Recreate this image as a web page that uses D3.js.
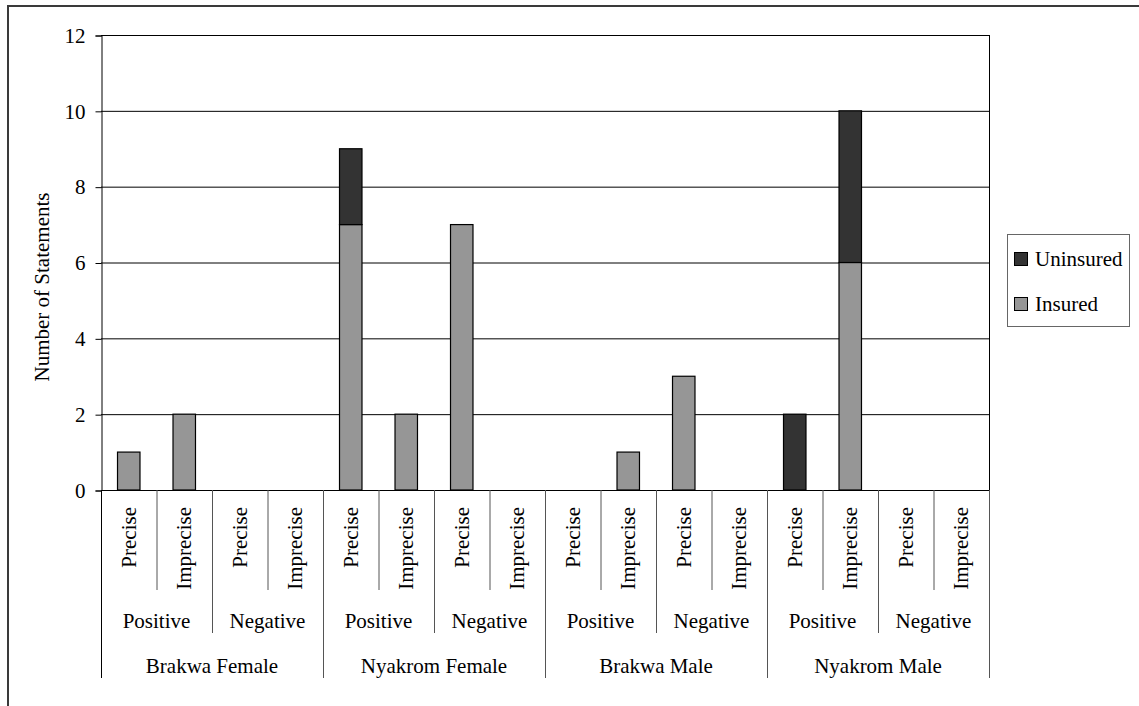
<!DOCTYPE html>
<html>
<head>
<meta charset="utf-8">
<script src="https://cdn.jsdelivr.net/npm/d3@7"></script>
<style>
  body { margin: 0; background: #fff; }
</style>
</head>
<body>
<script>
const w = 1139,
  h = 706;
const serif = 'Liberation Serif, Times New Roman, serif';

// data
const groups = ['Brakwa Female', 'Nyakrom Female', 'Brakwa Male', 'Nyakrom Male'];
const polarities = ['Positive', 'Negative'];
const precisions = ['Precise', 'Imprecise'];
const insured = [1, 2, 0, 0, 7, 2, 7, 0, 0, 1, 3, 0, 0, 6, 0, 0];
const uninsured = [0, 0, 0, 0, 2, 0, 0, 0, 0, 0, 0, 0, 2, 4, 0, 0];
const seriesNames = ['Insured', 'Uninsured'];
const seriesColors = ['#969696', '#333333'];
const yTicks = [0, 2, 4, 6, 8, 10, 12];

const margin = { left: 101, right: 989, top: 35, bottom: 490 };

// one row per bottom-level category
const rows = [];
groups.forEach((g, gi) => {
  polarities.forEach((p, pi) => {
    precisions.forEach((q, qi) => {
      const i = gi * 4 + pi * 2 + qi;
      rows.push({ i, group: g, polarity: p, precision: q, Insured: insured[i], Uninsured: uninsured[i] });
    });
  });
});

const xScale = d3.scaleBand()
  .domain(rows.map(d => d.i))
  .range([margin.left, margin.right]);

const yScale = d3.scaleLinear()
  .domain([0, 12])
  .range([margin.bottom, margin.top]);

const color = d3.scaleOrdinal().domain(seriesNames).range(seriesColors);

const svg = d3.select('body')
  .append('svg')
  .attr('width', w)
  .attr('height', h)
  .attr('font-family', serif)
  .attr('font-size', 21);

// outer chart frame
svg.append('rect')
  .attr('x', 8).attr('y', 6)
  .attr('width', w + 10).attr('height', h + 10)
  .attr('fill', 'none')
  .attr('stroke', '#3a3a3a')
  .attr('stroke-width', 2);

// gridlines
svg.append('g')
  .selectAll('line')
  .data(yTicks)
  .enter()
  .append('line')
  .attr('x1', margin.left).attr('x2', margin.right)
  .attr('y1', d => yScale(d) + 0.5).attr('y2', d => yScale(d) + 0.5)
  .attr('stroke', '#000');

// right border of plot area
svg.append('line')
  .attr('x1', margin.right + 0.5).attr('x2', margin.right + 0.5)
  .attr('y1', margin.top).attr('y2', margin.bottom)
  .attr('stroke', '#000');

const yAxis = d3.axisLeft(yScale)
  .tickValues(yTicks)
  .tickSize(6)
  .tickPadding(10);

const yG = svg.append('g')
  .attr('transform', `translate(${margin.left + 0.5}, 0.5)`)
  .call(yAxis)
  .attr('font-family', serif)
  .attr('font-size', 21);
yG.selectAll('path, line').attr('stroke', '#000');
yG.selectAll('text').attr('fill', '#000');

svg.append('text')
  .attr('transform', 'translate(49, 287) rotate(-90)')
  .attr('text-anchor', 'middle')
  .text('Number of Statements');

// stacked bars
const stacked = d3.stack().keys(seriesNames)(rows);
const barW = xScale.bandwidth() * 0.405;

svg.append('g')
  .selectAll('g')
  .data(stacked)
  .enter()
  .append('g')
  .attr('fill', d => color(d.key))
  .selectAll('rect')
  .data(d => d.filter(s => s[1] - s[0] > 0))
  .enter()
  .append('rect')
  .attr('x', d => xScale(d.data.i) + (xScale.bandwidth() - barW) / 2)
  .attr('y', d => yScale(d[1]))
  .attr('width', barW)
  .attr('height', d => yScale(d[0]) - yScale(d[1]))
  .attr('stroke', '#000')
  .attr('stroke-width', 1.2);

// multi-level category axis: separators
const bounds = d3.range(rows.length + 1);
svg.append('g')
  .selectAll('line')
  .data(bounds)
  .enter()
  .append('line')
  .attr('x1', d => (d < rows.length ? xScale(d) : margin.right) + 0.5)
  .attr('x2', d => (d < rows.length ? xScale(d) : margin.right) + 0.5)
  .attr('y1', margin.bottom)
  .attr('y2', d => d % 4 === 0 ? 678 : (d % 2 === 0 ? 633 : 590))
  .attr('stroke', d => d === 0 ? '#000' : '#555');

// level 1 labels
svg.append('g')
  .selectAll('text')
  .data(rows)
  .enter()
  .append('text')
  .attr('transform', d => `translate(${xScale(d.i) + xScale.bandwidth() / 2 + 7}, 507) rotate(-90)`)
  .attr('text-anchor', 'end')
  .text(d => d.precision);

// level 2 labels
const polRows = rows.filter(d => d.i % 2 === 0);
svg.append('g')
  .selectAll('text')
  .data(polRows)
  .enter()
  .append('text')
  .attr('x', d => xScale(d.i) + xScale.bandwidth())
  .attr('y', 628)
  .attr('text-anchor', 'middle')
  .text(d => d.polarity);

// level 3 labels
const grpRows = rows.filter(d => d.i % 4 === 0);
svg.append('g')
  .selectAll('text')
  .data(grpRows)
  .enter()
  .append('text')
  .attr('x', d => xScale(d.i) + xScale.bandwidth() * 2)
  .attr('y', 673)
  .attr('text-anchor', 'middle')
  .text(d => d.group);

// legend
const legend = svg.append('g');
legend.append('rect')
  .attr('x', 1007.5).attr('y', 234.5)
  .attr('width', 122).attr('height', 92)
  .attr('fill', '#fff')
  .attr('stroke', '#666');

const legendItems = legend.selectAll('g')
  .data(seriesNames.slice().reverse())
  .enter()
  .append('g')
  .attr('transform', (d, i) => `translate(1014, ${259 + i * 45})`);

legendItems.append('rect')
  .attr('x', 0.5).attr('y', -6.5)
  .attr('width', 13).attr('height', 13)
  .attr('fill', d => color(d))
  .attr('stroke', '#000');

legendItems.append('text')
  .attr('x', 21)
  .attr('y', 7)
  .text(d => d);
</script>
</body>
</html>
